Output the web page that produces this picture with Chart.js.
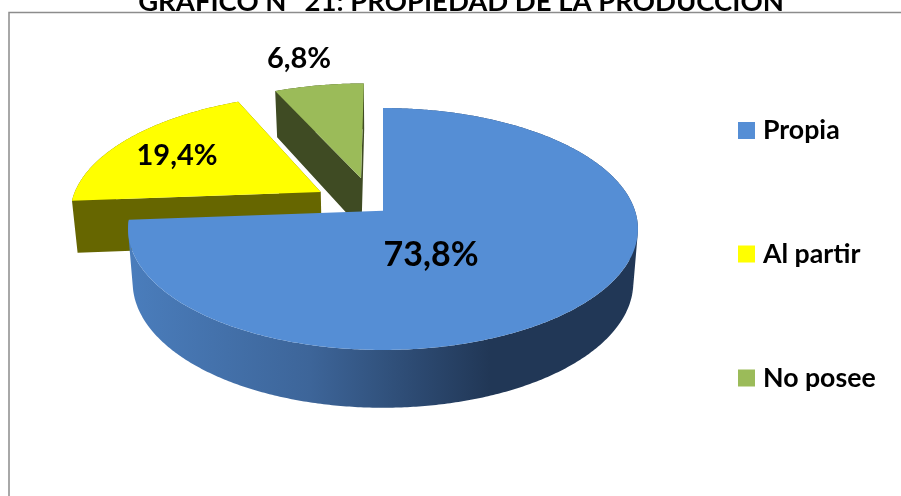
<!DOCTYPE html>
<html>
<head>
<meta charset="utf-8">
<style>html,body{margin:0;padding:0;background:#fff;overflow:hidden}canvas{display:block}</style>
<script src="https://cdn.jsdelivr.net/npm/chart.js@4"></script>
</head>
<body>
<canvas id="c" width="901" height="496"></canvas>
<script>
const categories = ['Propia', 'Al partir', 'No posee'];
const shares = [73.8, 19.4, 6.8];
const tickLabels = ['73,8%', '19,4%', '6,8%'];
const sliceColors = ['#558ED5', '#FFFF00', '#9BBB59'];
const wallColors = [null, '#666600', '#3F4B23'];
const explode = [0, 30, 30];
const explodeTurn = [0, 0.033, -0.094];
const titleText = 'GRAFICO N° 21: PROPIEDAD DE LA PRODUCCION';

const FONT = 'Lato, Carlito, Calibri, sans-serif';
const view = {cx: 383, cy: 210.7, R: 252, H: 118.2, p: 0.1512, shrink: 0.982};
const labelSpots = [[431, 255], [177, 156], [299, 59]];
const legendSpot = {boxX: 738, textX: 763, rows: [130.5, 254, 378], box: 17};

function project(u, v) {
  const w = 1 + view.p * v;
  return [view.cx + view.R * u / w, view.cy - view.H * v / w];
}
function drop(pt, v) {
  return [view.cx + (pt[0] - view.cx) * view.shrink, pt[1] + 52.5 - 5.3 * v];
}
function outline(arc, turn) {
  const a = arc.getProps(['startAngle', 'endAngle', 'outerRadius'], true);
  const r = a.outerRadius;
  const e = (arc.options.offset || 0) / r;
  const mid = (a.startAngle + a.endAngle) / 2 + turn;
  const eu = e * Math.cos(mid), ev = -e * Math.sin(mid);
  const pts = [[eu, ev]];
  const n = Math.max(2, Math.ceil((a.endAngle - a.startAngle) / 0.01));
  for (let i = 0; i <= n; i++) {
    const t = a.startAngle + (a.endAngle - a.startAngle) * i / n;
    pts.push([eu + Math.cos(t), ev - Math.sin(t)]);
  }
  return pts;
}
function area(q) {
  let s = 0;
  q.forEach((p, k) => { const n = q[(k + 1) % q.length]; s += p[0] * n[1] - n[0] * p[1]; });
  return s;
}
function addPoly(ctx, list) {
  list.forEach((p, k) => k ? ctx.lineTo(p[0], p[1]) : ctx.moveTo(p[0], p[1]));
  ctx.closePath();
}

const pie3d = {
  id: 'pie3d',
  beforeDraw(chart) {
    const ctx = chart.ctx;
    ctx.save();
    ctx.strokeStyle = '#8C8C8C';
    ctx.lineWidth = 1.5;
    ctx.beginPath();
    ctx.moveTo(9, 496); ctx.lineTo(9, 12.5); ctx.lineTo(901, 12.5);
    ctx.stroke();
    ctx.restore();
  },
  beforeDatasetDraw(chart, args) {
    const ctx = chart.ctx;
    const arcs = args.meta.data;
    ctx.save();
    const grad = ctx.createLinearGradient(130, 0, 490, 0);
    grad.addColorStop(0, '#4A7DBC');
    grad.addColorStop(0.5, '#3D6599');
    grad.addColorStop(1, '#213756');
    for (let i = arcs.length - 1; i >= 0; i--) {
      const pts = outline(arcs[i], explodeTurn[i]);
      const top = pts.map(p => project(p[0], p[1]));
      const bot = top.map((p, k) => drop(p, pts[k][1]));
      ctx.fillStyle = wallColors[i] || grad;
      ctx.beginPath();
      const span = wallColors[i] ? top.length : top.length - 1;
      for (let k = wallColors[i] ? 0 : 1; k < span; k++) {
        const j = (k + 1) % top.length;
        let q = [top[k], top[j], bot[j], bot[k]];
        if (area(q) < 0) q = q.reverse();
        addPoly(ctx, q);
      }
      ctx.fill('nonzero');
      ctx.fillStyle = arcs[i].options.backgroundColor;
      ctx.beginPath();
      addPoly(ctx, top);
      ctx.fill();
    }
    ctx.restore();
    return false;
  },
  afterDraw(chart) {
    const ctx = chart.ctx;
    ctx.save();
    ctx.fillStyle = '#000';
    ctx.textBaseline = 'middle';
    ctx.textAlign = 'center';
    tickLabels.forEach((t, i) => {
      ctx.font = 'bold ' + (i === 0 ? 34 : 29) + 'px ' + FONT;
      ctx.fillText(t, labelSpots[i][0], labelSpots[i][1]);
    });
    ctx.textAlign = 'left';
    ctx.font = 'bold 26.7px ' + FONT;
    categories.forEach((t, i) => {
      const y = legendSpot.rows[i];
      ctx.fillStyle = sliceColors[i];
      ctx.fillRect(legendSpot.boxX, y - legendSpot.box / 2, legendSpot.box, legendSpot.box);
      ctx.fillStyle = '#000';
      ctx.fillText(t, legendSpot.textX, y);
    });
    ctx.restore();
  }
};

new Chart(document.getElementById('c'), {
  type: 'pie',
  data: {
    labels: categories,
    datasets: [{data: shares, backgroundColor: sliceColors, offset: explode, borderWidth: 0, hoverOffset: 0}]
  },
  options: {
    responsive: false,
    animation: false,
    radius: 100,
    layout: {padding: {left: 21}},
    events: [],
    plugins: {
      legend: {display: false},
      tooltip: {enabled: false},
      title: {
        display: true,
        text: titleText,
        color: '#000',
        font: {family: FONT, weight: 'bold', size: 27.5, lineHeight: 1},
        padding: {top: -12, bottom: 0}
      }
    }
  },
  plugins: [pie3d]
});
</script>
</body>
</html>
